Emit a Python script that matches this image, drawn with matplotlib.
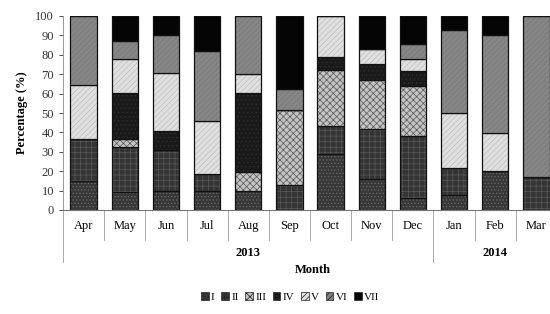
import numpy as np
import matplotlib
matplotlib.use('Agg')
import matplotlib.pyplot as plt
import matplotlib.transforms as mtransforms
from matplotlib.patches import Patch

plt.rcParams['font.family'] = ['Liberation Serif', 'DejaVu Serif']
plt.rcParams['hatch.linewidth'] = 0.5

# Data (percent of each group per month)
months = ['Apr', 'May', 'Jun', 'Jul', 'Aug', 'Sep', 'Oct', 'Nov', 'Dec', 'Jan', 'Feb', 'Mar']
years = ['2013', '2014']
groups = ['I', 'II', 'III', 'IV', 'V', 'VI', 'VII']
g1 = [15, 9.5, 10, 10, 10, 0, 29, 16, 6, 7.5, 20, 0]
g2 = [21.5, 23, 21, 8.5, 0, 13, 14.5, 26, 32, 14, 0, 17]
g3 = [0, 4, 0, 0, 9.5, 38.5, 28.5, 25, 26, 0, 0, 0]
g4 = [0, 24, 9.5, 0, 41, 0, 7, 8.5, 7.5, 0, 0, 0]
g5 = [28, 17.5, 30, 27.5, 9.5, 0, 21, 7.5, 6.5, 28.5, 19.5, 0]
g6 = [35.5, 9, 19.5, 36, 30, 11, 0, 0, 7.5, 43, 50.5, 83]
g7 = [0, 13, 10, 18, 0, 37.5, 0, 17, 14.5, 7, 10, 0]
series = [g1, g2, g3, g4, g5, g6, g7]

# fill colour, hatch, hatch colour per group
styles = [
    ('#383838', '.....', '#6a6a6a'),
    ('#343434', '+++', '#5a5a5a'),
    ('#c4c4c4', 'xxxxx', '#555555'),
    ('#1a1a1a', '....', '#303030'),
    ('#e0e0e0', '//////', '#bdbdbd'),
    ('#808080', '//////', '#929292'),
    ('#050505', '', '#050505'),
]

fig = plt.figure(figsize=(5.5, 3.14), dpi=100)
ax = fig.add_axes([63 / 550, 1 - 210 / 314, 494 / 550, 194 / 314])

x = np.arange(len(months))
width = 0.64
bottom = np.zeros(len(months))
for vals, (fc, hatch, hc), name in zip(series, styles, groups):
    vals = np.array(vals, dtype=float)
    ax.bar(x, vals, width, bottom=bottom, color=fc, hatch=hatch,
           edgecolor=hc, linewidth=0)
    ax.bar(x, vals, width, bottom=bottom, fill=False, edgecolor='#111111',
           linewidth=0.9)
    bottom += vals

ax.set_xlim(-0.5, len(months) - 0.5)
ax.set_ylim(0, 100)
ax.set_yticks(range(0, 101, 10))
ax.tick_params(axis='y', labelsize=9, length=3, width=0.6, colors='#333333')
ax.set_xticks([])
for s in ['top', 'right']:
    ax.spines[s].set_visible(False)
ax.spines['left'].set_color('#999999')
ax.spines['bottom'].set_color('#777777')
ax.spines['left'].set_linewidth(0.7)
ax.spines['bottom'].set_linewidth(0.8)

ax.set_ylabel('Percentage (%)', fontsize=9, fontweight='bold', labelpad=5)

# multi-level category axis
trans = mtransforms.blended_transform_factory(ax.transData, ax.transAxes)
for i, m in enumerate(months):
    ax.text(i, -0.085, m, transform=trans, ha='center', va='center', fontsize=9)
for b in range(1, len(months)):
    low = -0.27 if b == 9 else -0.155
    ax.plot([b - 0.5, b - 0.5], [0, low], transform=trans, color='#aaaaaa',
            linewidth=0.7, clip_on=False)
ax.plot([-0.5, -0.5], [0, -0.27], transform=trans, color='#aaaaaa',
        linewidth=0.7, clip_on=False)
ax.text(4, -0.222, years[0], transform=trans, ha='center', va='center',
        fontsize=9, fontweight='bold')
ax.text(10, -0.222, years[1], transform=trans, ha='center', va='center',
        fontsize=9, fontweight='bold')
fig.text(313 / 550, 1 - 270 / 314, 'Month', ha='center', va='center',
         fontsize=9, fontweight='bold')

handles = [Patch(facecolor=fc, hatch=h, edgecolor='#222222', linewidth=0.5)
           for fc, h, hc in styles]
fig.legend(handles, groups, loc='center', bbox_to_anchor=(290 / 550, 1 - 297 / 314),
           ncol=7, frameon=False, fontsize=8, handlelength=0.7, handleheight=0.7,
           handletextpad=0.2, columnspacing=0.6)

fig.savefig('out.png', dpi=100)
